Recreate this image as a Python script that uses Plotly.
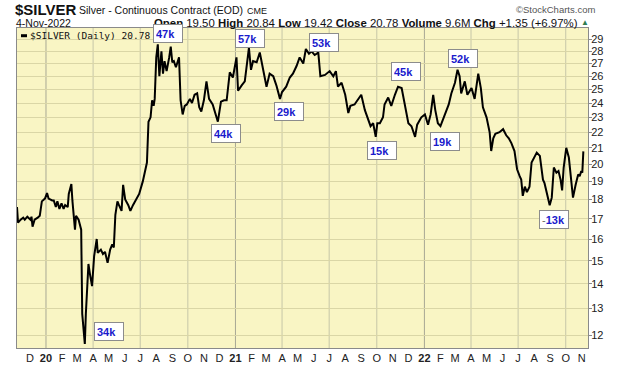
import math
import pandas as pd
import plotly.graph_objects as go

# ---------------- data ----------------
dates = [
    "2019-11-06", "2019-11-08", "2019-11-13", "2019-11-18", "2019-11-21", "2019-11-26",
    "2019-12-02", "2019-12-04", "2019-12-06", "2019-12-10", "2019-12-16", "2019-12-20",
    "2019-12-24", "2019-12-30",
    "2020-01-03", "2020-01-06", "2020-01-13", "2020-01-16", "2020-01-20", "2020-01-23",
    "2020-01-27", "2020-01-31", "2020-02-04", "2020-02-07", "2020-02-12", "2020-02-14",
    "2020-02-19", "2020-02-21", "2020-02-26", "2020-02-28", "2020-03-04", "2020-03-09",
    "2020-03-11", "2020-03-16", "2020-03-18", "2020-03-23", "2020-03-26", "2020-03-30",
    "2020-04-03", "2020-04-08", "2020-04-10", "2020-04-16", "2020-04-20", "2020-04-24",
    "2020-04-29", "2020-05-04", "2020-05-08", "2020-05-11", "2020-05-14", "2020-05-18",
    "2020-05-21", "2020-05-26", "2020-05-29", "2020-06-02", "2020-06-08", "2020-06-12",
    "2020-06-17", "2020-06-24", "2020-06-29", "2020-07-06", "2020-07-10", "2020-07-14",
    "2020-07-17", "2020-07-21", "2020-07-24", "2020-07-27", "2020-07-29", "2020-08-01",
    "2020-08-04", "2020-08-07", "2020-08-11", "2020-08-14", "2020-08-17", "2020-08-21",
    "2020-08-26", "2020-08-29", "2020-09-01", "2020-09-04", "2020-09-08", "2020-09-11",
    "2020-09-14", "2020-09-17", "2020-09-21", "2020-09-25", "2020-09-29", "2020-10-05",
    "2020-10-09", "2020-10-14", "2020-10-19", "2020-10-23", "2020-10-27", "2020-11-01",
    "2020-11-06", "2020-11-11", "2020-11-18", "2020-11-28", "2020-12-04", "2020-12-10",
    "2020-12-15", "2020-12-21", "2020-12-27",
    "2021-01-03", "2021-01-06", "2021-01-13", "2021-01-19", "2021-01-27", "2021-01-31",
    "2021-02-04", "2021-02-11", "2021-02-17", "2021-02-23", "2021-03-02", "2021-03-08",
    "2021-03-15", "2021-03-21", "2021-03-28", "2021-04-01", "2021-04-09", "2021-04-16",
    "2021-04-22", "2021-04-29", "2021-05-05", "2021-05-12", "2021-05-17", "2021-05-23",
    "2021-05-28", "2021-06-03", "2021-06-10", "2021-06-14", "2021-06-23", "2021-07-02",
    "2021-07-09", "2021-07-14", "2021-07-18", "2021-07-25", "2021-08-01", "2021-08-07",
    "2021-08-11", "2021-08-19", "2021-08-26", "2021-09-01", "2021-09-08", "2021-09-14",
    "2021-09-19", "2021-09-24", "2021-09-29", "2021-10-02", "2021-10-07", "2021-10-13",
    "2021-10-16", "2021-10-23", "2021-10-29", "2021-11-05", "2021-11-11", "2021-11-18",
    "2021-11-24", "2021-12-01", "2021-12-07", "2021-12-14", "2021-12-18", "2021-12-26",
    "2022-01-02", "2022-01-08", "2022-01-13", "2022-01-18", "2022-01-22", "2022-01-27",
    "2022-02-01", "2022-02-09", "2022-02-17", "2022-02-22", "2022-03-01", "2022-03-06",
    "2022-03-10", "2022-03-13", "2022-03-20", "2022-03-25", "2022-04-02", "2022-04-08",
    "2022-04-15", "2022-04-20", "2022-04-24", "2022-05-01", "2022-05-07", "2022-05-10",
    "2022-05-14", "2022-05-18", "2022-05-26", "2022-06-02", "2022-06-08", "2022-06-13",
    "2022-06-18", "2022-06-24", "2022-06-29", "2022-07-04", "2022-07-07", "2022-07-10",
    "2022-07-14", "2022-07-18", "2022-07-23", "2022-07-27", "2022-08-02", "2022-08-06",
    "2022-08-12", "2022-08-15", "2022-08-18", "2022-08-21", "2022-08-28", "2022-08-31",
    "2022-09-04", "2022-09-08", "2022-09-13", "2022-09-17", "2022-09-21", "2022-09-24",
    "2022-09-27", "2022-10-02", "2022-10-07", "2022-10-10", "2022-10-12", "2022-10-15",
    "2022-10-20", "2022-10-25", "2022-10-28", "2022-10-31", "2022-11-02", "2022-11-04",
]
prices = [
    17.60, 16.80, 16.95, 17.05, 16.95, 17.10,
    16.95, 17.10, 16.60, 16.95, 17.05, 17.15,
    17.90, 18.05,
    18.35, 18.05, 17.95, 17.95, 17.60, 17.90,
    17.50, 17.80, 17.50, 17.70, 17.60, 18.30,
    18.85, 17.95, 16.45, 17.15, 16.95, 16.45,
    12.80, 11.70, 12.80, 14.85, 14.40, 13.90,
    15.20, 16.00, 15.35, 15.50, 15.30, 15.40,
    14.90, 15.50, 15.75, 15.60, 17.20, 17.90,
    17.70, 17.40, 18.80, 18.00, 17.70, 17.40,
    17.70, 18.05, 18.30, 19.00, 19.60, 20.10,
    22.70, 23.00, 24.20, 23.80, 24.30, 27.50,
    28.60, 26.00, 28.00, 26.20, 27.20, 26.40,
    27.50, 28.40, 27.10, 27.20, 26.70, 27.10,
    27.50, 24.20, 23.20, 23.80, 23.90, 24.30,
    24.00, 24.60, 24.70, 23.70, 23.40, 24.20,
    25.60, 24.30, 23.90, 22.70, 24.10, 24.20,
    24.20, 26.30, 25.90,
    27.50, 24.90, 25.30, 25.60, 28.30, 26.50,
    27.20, 27.10, 27.90, 26.70, 25.20, 26.20,
    26.00, 25.30, 24.30, 24.80, 25.20, 25.90,
    26.20, 26.80, 27.50, 27.00, 28.20, 27.80,
    28.00, 27.70, 27.90, 26.00, 26.10, 26.40,
    26.00, 26.40, 25.20, 25.50, 24.60, 23.30,
    23.80, 23.90, 24.30, 24.60, 23.50, 22.80,
    22.40, 22.60, 21.70, 22.60, 22.60, 23.00,
    23.90, 24.40, 23.80, 24.60, 25.20, 25.10,
    23.90, 22.60, 22.40, 21.70, 22.50, 23.00,
    23.20, 22.50, 23.20, 24.60, 23.50, 22.60,
    22.40, 23.20, 23.90, 24.70, 25.50, 26.50,
    26.00, 24.70, 25.60, 24.60, 25.10, 24.30,
    26.20, 25.10, 23.70, 23.00, 22.00, 20.80,
    21.60, 21.90, 22.00, 22.20, 21.80, 21.60,
    21.30, 20.80, 19.70, 19.30, 19.10, 18.20,
    18.70, 18.40, 18.70, 20.10, 20.50, 20.70,
    20.50, 19.80, 19.10, 18.90, 18.10, 17.70,
    18.10, 19.80, 19.50, 19.60, 19.10, 18.50,
    19.80, 21.00, 20.40, 19.50, 18.80, 18.10,
    18.80, 19.40, 19.30, 19.60, 19.50, 20.78,
]

label_texts = ["34k", "47k", "44k", "57k", "29k", "53k", "15k", "45k", "19k", "52k", "-13k"]
label_dates = ["2020-03-16", "2020-08-04", "2020-11-28", "2021-01-27", "2021-03-28", "2021-05-17",
               "2021-09-29", "2021-11-11", "2022-01-27", "2022-03-06", "2022-08-31"]
label_prices = [11.70, 28.60, 22.70, 28.30, 24.30, 28.20, 21.70, 25.20, 22.60, 26.50, 17.70]

month_letters = ["J", "F", "M", "A", "M", "J", "J", "A", "S", "O", "N", "D"]
y_tick_values = list(range(12, 30))

# ---------------- styles ----------------
W, H = 620, 376
ML, MR, MT, MB = 17, 32, 28, 16
label_dx = [9, -5, -7, -14, -6, 3, -9, -7, -8, -10, -11]     # px offsets of boxes
label_dy = [22, 20, -2, 19, -3, 16, -4, 25, -9, 21, -5]
BOX_W, BOX_H = 30, 19

PLOT_BG = "#F9F5C4"
HGRID = "#DAD6A6"
VGRID = "#C6C6A8"
YEARGRID = "#A8A894"
SANS = "Liberation Sans, Arial, sans-serif"

def px(x):
    return (x - ML) / (W - ML - MR)

def py(y):
    return (H - MB - y) / (H - MT - MB)

fig = go.Figure()
fig.add_trace(go.Scatter(x=dates, y=prices, mode="lines",
                         line=dict(color="black", width=2),
                         hoverinfo="skip", showlegend=False))

tickvals = pd.date_range("2019-12-01", "2022-11-01", freq="MS")
ticktext = [f"<b>{d.strftime('%y')}</b>" if d.month == 1 else month_letters[d.month - 1]
            for d in tickvals]

shapes = []
for q in pd.date_range("2020-01-01", "2022-10-01", freq="QS"):
    shapes.append(dict(type="line", xref="x", yref="paper", x0=q, x1=q, y0=0, y1=1,
                       line=dict(color=YEARGRID if q.month == 1 else VGRID, width=1),
                       layer="below"))
# legend dash
shapes.append(dict(type="line", xref="paper", yref="paper", x0=px(21), x1=px(27),
                   y0=py(36), y1=py(36), line=dict(color="black", width=3)))
# drop shadows of the label boxes (pixel-sized, anchored at each label's point)
for d, p, dx, dy in zip(label_dates, label_prices, label_dx, label_dy):
    shapes.append(dict(type="rect", xref="x", yref="y",
                       xsizemode="pixel", ysizemode="pixel",
                       xanchor=d, yanchor=math.log10(p),
                       x0=dx + 2, x1=dx + 2 + BOX_W, y0=dy - 2, y1=dy - 2 - BOX_H,
                       fillcolor="#A8A8A8", line=dict(width=0), layer="above"))

ann = []
ann.append(dict(text="<b>$SILVER</b>", x=px(14), y=py(8.5), xanchor="left", yanchor="middle",
                font=dict(family=SANS, size=15, color="#111")))
ann.append(dict(text="Silver - Continuous Contract (EOD)", x=px(78), y=py(9.5), xanchor="left",
                yanchor="middle", font=dict(family=SANS, size=10.5, color="#111")))
ann.append(dict(text="CME", x=px(246), y=py(10), xanchor="left", yanchor="middle",
                font=dict(family=SANS, size=9, color="#111")))
ann.append(dict(text="©StockCharts.com", x=px(596), y=py(9), xanchor="right", yanchor="middle",
                font=dict(family=SANS, size=9.5, color="#555")))
ann.append(dict(text="4-Nov-2022", x=px(15), y=py(23), xanchor="left", yanchor="middle",
                font=dict(family=SANS, size=10.5, color="#111")))
ann.append(dict(text="<b>Open</b> 19.50 <b>High</b> 20.84 <b>Low</b> 19.42 <b>Close</b> 20.78 "
                     "<b>Volume</b> 9.6M <b>Chg</b> +1.35 (+6.97%)",
                x=px(579), y=py(23), xanchor="right", yanchor="middle",
                font=dict(family=SANS, size=11.4, color="#111")))
ann.append(dict(text="▲", x=px(580), y=py(22.5), xanchor="left", yanchor="middle",
                font=dict(family=SANS, size=8, color="#2E7D4F")))
ann.append(dict(text="$SILVER (Daily) 20.78", x=px(29), y=py(36), xanchor="left", yanchor="middle",
                font=dict(family="DejaVu Sans Mono, monospace", size=9.5, color="#111")))
for a in ann:
    a.update(xref="paper", yref="paper", showarrow=False, borderpad=0)

for t, d, p, dx, dy in zip(label_texts, label_dates, label_prices, label_dx, label_dy):
    txt = f"<b>{t}</b>" if not t.startswith("-") else f"<span style='color:#666'>-</span><b>{t[1:]}</b>"
    ann.append(dict(x=d, y=math.log10(p), xref="x", yref="y", xanchor="left", yanchor="top",
                    showarrow=False, width=24, height=13, borderpad=2, borderwidth=1,
                    align="left", text=txt, xshift=dx, yshift=dy,
                    font=dict(family=SANS, size=11, color="#1A1ACC"),
                    bgcolor="white", bordercolor="#8C8C8C"))

fig.update_layout(
    width=W, height=H, margin=dict(l=ML, r=MR, t=MT, b=MB),
    paper_bgcolor="white", plot_bgcolor=PLOT_BG,
    shapes=shapes, annotations=ann, showlegend=False,
    xaxis=dict(type="date", range=["2019-11-06", "2022-11-13"], tickvals=tickvals,
               ticktext=ticktext, showgrid=False, zeroline=False, ticks="",
               tickfont=dict(family=SANS, size=11, color="#222"),
               showline=True, mirror=True, linecolor="#8A8A8A", linewidth=1),
    yaxis=dict(type="log", side="right", range=[math.log10(11.56), math.log10(30.02)],
               tickvals=y_tick_values, ticktext=[str(v) for v in y_tick_values],
               showgrid=True, gridcolor=HGRID, zeroline=False,
               ticks="outside", ticklen=3, tickcolor="#8A8A8A", ticklabelstandoff=-3,
               tickfont=dict(family=SANS, size=11, color="#222"),
               showline=True, mirror=True, linecolor="#8A8A8A", linewidth=1),
)

fig.write_html("out.html", config={"displayModeBar": False},
               post_script="document.body.style.margin='0px';")
